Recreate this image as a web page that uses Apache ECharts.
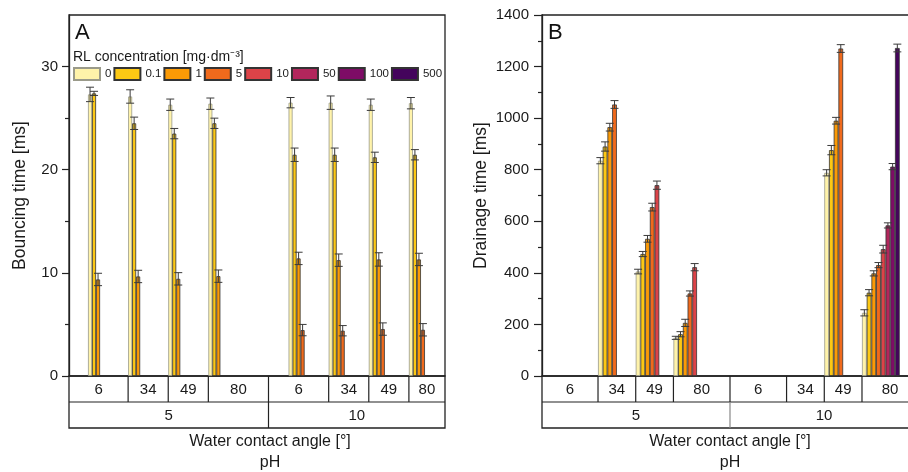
<!DOCTYPE html>
<html>
<head>
<meta charset="utf-8">
<script src="https://cdn.jsdelivr.net/npm/echarts@6/dist/echarts.min.js"></script>
<style>
  html, body { margin: 0; padding: 0; background: #fff; }
  #main { width: 908px; height: 472px; }
</style>
</head>
<body>
<div id="main"></div>
<script>
// categories: water contact angle, '' is the empty slot between the two pH groups
var angles = ['6', '34', '49', '80', '', '6', '34', '49', '80'];
var phGroups = ['5', '10'];
var concNames = ['0', '0.1', '1', '5', '10', '50', '100', '500'];
var concColors = ['#fff3aa', '#fcc814', '#fb9a06', '#f06a1c', '#dc4348', '#b2265c', '#7e0c66', '#44045c'];

// A - bouncing time [ms], one array per RL concentration
var bounce0 = [27.3, 27.1, 26.3, 26.4, null, 26.5, 26.5, 26.3, 26.45];
var bounce01 = [27.4, 24.5, 23.5, 24.5, null, 21.45, 21.45, 21.2, 21.45];
var bounce1 = [9.36, 9.65, 9.42, 9.68, null, 11.4, 11.23, 11.3, 11.3];
var bounce5 = [null, null, null, null, null, 4.45, 4.39, 4.55, 4.48];
var bounceErr0 = [0.7, 0.65, 0.55, 0.55, null, 0.5, 0.65, 0.55, 0.55];
var bounceErr01 = [0.2, 0.6, 0.5, 0.5, null, 0.65, 0.65, 0.5, 0.5];
var bounceErr1 = [0.6, 0.6, 0.6, 0.6, null, 0.6, 0.6, 0.65, 0.6];
var bounceErr5 = [null, null, null, null, null, 0.55, 0.5, 0.6, 0.6];
var bounceMajor = [0, 10, 20, 30];
var bounceMinor = [5, 15, 25];

// B - drainage time [ms]
var drain0 = [null, 835, 405, 148, null, null, null, 788, 245];
var drain01 = [null, 890, 473, 162, null, null, null, 876, 323];
var drain1 = [null, 965, 532, 206, null, null, null, 990, 398];
var drain5 = [null, 1053, 655, 320, null, null, null, 1270, 430];
var drain10 = [null, null, 740, 422, null, null, null, null, 492];
var drain50 = [null, null, null, null, null, null, null, null, 584];
var drain100 = [null, null, null, null, null, null, null, null, 812];
var drain500 = [null, null, null, null, null, null, null, null, 1272];
var drainErr0 = [null, 12, 9, 6, null, null, null, 12, 12];
var drainErr01 = [null, 18, 10, 10, null, null, null, 18, 12];
var drainErr1 = [null, 15, 13, 14, null, null, null, 13, 10];
var drainErr5 = [null, 15, 15, 10, null, null, null, 15, 10];
var drainErr10 = [null, null, 16, 14, null, null, null, null, 15];
var drainErr50 = [null, null, null, null, null, null, null, null, 10];
var drainErr100 = [null, null, null, null, null, null, null, null, 12];
var drainErr500 = [null, null, null, null, null, null, null, null, 15];

var bounceAll = [bounce0, bounce01, bounce1, bounce5, [], [], [], []];
var bounceErrAll = [bounceErr0, bounceErr01, bounceErr1, bounceErr5, [], [], [], []];
var drainAll = [drain0, drain01, drain1, drain5, drain10, drain50, drain100, drain500];
var drainErrAll = [drainErr0, drainErr01, drainErr1, drainErr5, drainErr10, drainErr50, drainErr100, drainErr500];

var FONT = 'Liberation Sans, Arial, sans-serif';
var TXT = '#1a1a1a';

// frame of each panel and the area the bar categories use
var panels = [
  { frameL: 69, frameR: 445, barL: 84, barW: 361, fill: 0.8, gap: '20%' },
  { frameL: 542, frameR: 918, barL: 560.3, barW: 339.4, fill: 1.0, gap: '0%' }
];
var TOP = 15, ZERO = 376, ROW1 = 402, ROW2 = 428;

function errRender(idx, fill) {
  return function (params, api) {
    var band = api.size([1, 0])[0];
    var bw = band * fill / 8;
    var x = api.coord([api.value(0), 0])[0] + (idx - 3.5) * bw;
    var hi = api.coord([api.value(0), api.value(1) + api.value(2)])[1];
    var lo = api.coord([api.value(0), api.value(1) - api.value(2)])[1];
    var cw = 4;
    var st = { stroke: '#3a3a3a', lineWidth: 1 };
    return {
      type: 'group',
      children: [
        { type: 'line', shape: { x1: x, y1: hi, x2: x, y2: lo }, style: st },
        { type: 'line', shape: { x1: x - cw, y1: hi, x2: x + cw, y2: hi }, style: st },
        { type: 'line', shape: { x1: x - cw, y1: lo, x2: x + cw, y2: lo }, style: st }
      ]
    };
  };
}

function errData(vals, errs) {
  var out = [];
  for (var i = 0; i < vals.length; i++) {
    if (vals[i] != null && errs[i] != null) out.push([i, vals[i], errs[i]]);
  }
  return out;
}

var series = [];
[bounceAll, drainAll].forEach(function (all, p) {
  var errAll = p === 0 ? bounceErrAll : drainErrAll;
  for (var k = 0; k < 8; k++) {
    var vals = all[k].length ? all[k] : angles.map(function () { return null; });
    series.push({
      name: concNames[k],
      type: 'bar',
      xAxisIndex: p,
      yAxisIndex: p,
      barGap: '0%',
      barCategoryGap: panels[p].gap,
      itemStyle: { color: concColors[k], borderColor: k === 0 ? '#9a9a8a' : '#333', borderWidth: 0.8 },
      emphasis: { disabled: true },
      data: vals
    });
  }
  for (var k = 0; k < 8; k++) {
    if (!all[k].length) continue;
    series.push({
      name: 'err' + p + '_' + k,
      type: 'custom',
      xAxisIndex: p,
      yAxisIndex: p,
      z: 3,
      renderItem: errRender(k, panels[p].fill),
      data: errData(all[k], errAll[k])
    });
  }
});

var tickLine = { color: '#222', width: 1.2 };

function yAx(p, max, interval, name, nameGap, margin, tickLen) {
  return {
    type: 'value', gridIndex: p, position: 'left', min: 0, max: max, interval: interval,
    offset: panels[p].barL - panels[p].frameL,
    name: name, nameLocation: 'middle', nameGap: nameGap,
    nameTextStyle: { fontFamily: FONT, fontSize: 17.5, color: TXT },
    axisLine: { show: true, lineStyle: { color: '#222', width: 1.3 } },
    axisTick: { show: true, inside: false, length: tickLen, lineStyle: tickLine },
    minorTick: { show: true, splitNumber: 2, length: 4, lineStyle: tickLine },
    axisLabel: { fontFamily: FONT, fontSize: 15, color: TXT, margin: margin,
      formatter: function (v) { return String(v); } },
    splitLine: { show: false }
  };
}

var yA = yAx(0, 35, 10, 'Bouncing time [ms]', 40, 11, 7);
yA.minorTick = { show: false };
yA.axisTick.customValues = bounceMajor;
yA.axisLabel.customValues = bounceMajor;
// second axis on panel A only carries the short minor ticks
var yAminor = {
  type: 'value', gridIndex: 0, position: 'left', min: 0, max: 35, interval: 5,
  offset: panels[0].barL - panels[0].frameL,
  axisLine: { show: false }, axisLabel: { show: false }, splitLine: { show: false },
  axisTick: { show: true, length: 4, customValues: bounceMinor, lineStyle: tickLine }
};
var yB = yAx(1, 1400, 200, 'Drainage time [ms]', 52, 13, 8);

function xAx(p) {
  return {
    type: 'category', gridIndex: p, data: angles,
    axisLine: { show: false }, axisTick: { show: false }, axisLabel: { show: false },
    splitLine: { show: false }
  };
}

var chart = echarts.init(document.getElementById('main'));
chart.setOption({
  animation: false,
  backgroundColor: '#fff',
  grid: panels.map(function (pn) {
    return { left: pn.barL, top: TOP, width: pn.barW, height: ZERO - TOP };
  }),
  xAxis: [xAx(0), xAx(1)],
  yAxis: [yA, yB, yAminor],
  legend: {
    data: concNames, left: 73, top: 67, padding: 0, itemWidth: 26, itemHeight: 12, itemGap: 2,
    icon: 'rect', selectedMode: false,
    textStyle: { fontFamily: FONT, fontSize: 11.5, color: TXT }
  },
  series: series
});

// panel frames, category table and texts
var g = [];
panels.forEach(function (pn, p) {
  var box = { stroke: '#222', lineWidth: 1.3, fill: null };
  g.push({ type: 'rect', shape: { x: pn.frameL, y: TOP, width: pn.frameR - pn.frameL, height: ZERO - TOP }, style: box, silent: true });
  g.push({ type: 'rect', shape: { x: pn.frameL, y: ZERO, width: pn.frameR - pn.frameL, height: ROW2 - ZERO }, style: box, silent: true });
  g.push({ type: 'line', shape: { x1: pn.frameL, y1: ROW1, x2: pn.frameR, y2: ROW1 }, style: { stroke: '#222', lineWidth: 1.2 }, silent: true });
  var band = pn.barW / angles.length;
  var half = band * pn.fill / 2;
  var centers = angles.map(function (a, i) { return chart.convertToPixel({ xAxisIndex: p }, i); });
  var blank = angles.indexOf('');
  // row 1 dividers sit at the start of each bar group, the pH split in the empty slot
  var cuts = [pn.frameL];
  for (var i = 1; i < angles.length; i++) {
    if (i === blank) cuts.push(centers[i] + (p === 0 ? 4 : 0));
    else if (i !== blank + 1) cuts.push(centers[i] - half);
  }
  cuts.push(pn.frameR);
  for (var c = 1; c < cuts.length - 1; c++) {
    g.push({ type: 'line', shape: { x1: cuts[c], y1: ZERO, x2: cuts[c], y2: ROW1 }, style: { stroke: '#222', lineWidth: 1.2 }, silent: true });
  }
  var labels = angles.filter(function (a) { return a !== ''; });
  for (var c = 0; c < labels.length; c++) {
    g.push({ type: 'text', x: (cuts[c] + cuts[c + 1]) / 2, y: (ZERO + ROW1) / 2 + 1, silent: true,
      style: { text: labels[c], font: '15px ' + FONT, fill: TXT, align: 'center', verticalAlign: 'middle' } });
  }
  var split = cuts[blank];
  g.push({ type: 'line', shape: { x1: split, y1: ROW1, x2: split, y2: ROW2 }, style: { stroke: p === 0 ? '#222' : '#888', lineWidth: 1.2 }, silent: true });
  var phEdges = [pn.frameL, split, pn.frameR];
  for (var c = 0; c < phGroups.length; c++) {
    g.push({ type: 'text', x: (phEdges[c] + phEdges[c + 1]) / 2, y: (ROW1 + ROW2) / 2 + 1, silent: true,
      style: { text: phGroups[c], font: '15px ' + FONT, fill: TXT, align: 'center', verticalAlign: 'middle' } });
  }
  var mid = p === 0 ? 270 : 730;
  g.push({ type: 'text', x: mid, y: 442, silent: true,
    style: { text: 'Water contact angle [°]', font: '16px ' + FONT, fill: TXT, align: 'center', verticalAlign: 'middle' } });
  g.push({ type: 'text', x: mid, y: 463, silent: true,
    style: { text: 'pH', font: '16px ' + FONT, fill: TXT, align: 'center', verticalAlign: 'middle' } });
  g.push({ type: 'text', x: pn.frameL + 6, y: 33, silent: true,
    style: { text: p === 0 ? 'A' : 'B', font: '22px ' + FONT, fill: '#111', align: 'left', verticalAlign: 'middle' } });
});
g.push({ type: 'text', x: 73, y: 57, silent: true,
  style: { text: 'RL concentration [mg·dm⁻³]', font: '14px ' + FONT, fill: TXT, align: 'left', verticalAlign: 'middle' } });
chart.setOption({ graphic: g });
</script>
</body>
</html>
